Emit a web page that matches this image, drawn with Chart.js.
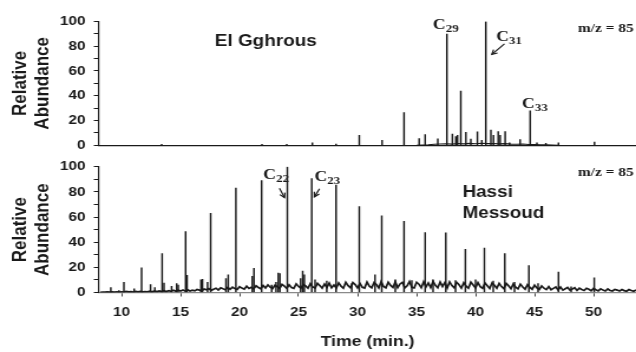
<!DOCTYPE html>
<html>
<head>
<meta charset="utf-8">
<script src="https://cdn.jsdelivr.net/npm/chart.js@4.4.1/dist/chart.umd.min.js"></script>
<style>
  html, body { margin: 0; padding: 0; background: #fff; overflow: hidden; }
  #wrap { position: relative; width: 636px; height: 352px; }
  /* the source figure is stretched sideways, so the canvases are too */
  canvas { position: absolute; left: 0; transform: scaleX(1.18); transform-origin: 0 0; }
  #top-chart { top: 0; }
  #bottom-chart { top: 152px; }
</style>
</head>
<body>
<div id="wrap">
  <canvas id="top-chart" width="539" height="160"></canvas>
  <canvas id="bottom-chart" width="539" height="200"></canvas>
</div>
<script>
// Time axis (min.)
const timeMin = 8.1;
const timeMax = 53.6;
const timeTicks = [10, 15, 20, 25, 30, 35, 40, 45, 50];
const abundanceTicks = [0, 10, 20, 30, 40, 50, 60, 70, 80, 90, 100];
const abundanceLabels = [0, 20, 40, 60, 80, 100];

// El Gghrous, m/z 85 peaks
const ggPeakTimes = [13.4, 21.9, 24.0, 26.17, 28.18, 30.15, 32.08, 33.94, 35.22, 35.73, 36.8, 37.57,
  38.04, 38.33, 38.47, 38.75, 39.18, 39.6, 40.16, 40.53, 40.87, 41.3, 41.52, 41.92, 42.09, 42.51,
  42.88, 43.78, 44.63, 45.2, 45.96, 47.03, 50.08];
const ggPeakHeights = [0.8, 0.8, 0.8, 2, 1, 8, 4, 26.4, 5.4, 8.5, 5.1, 89.8,
  9, 7, 8, 43.8, 10.5, 5, 10.8, 4, 100, 12.3, 8, 11, 8, 11,
  2, 4.5, 27.7, 2, 1.5, 2, 2.5];
// El Gghrous baseline, sampled every 0.5 min from 35 min
const ggBaseStart = 35;
const ggBaseStep = 0.5;
const ggBaseline = [0, 0.2, 0.4, 0.8, 1.0, 1.2, 0.9, 1.4, 1.1, 1.5, 1.2, 1.6, 1.3, 1.4, 1.1, 1.3,
  0.9, 0.8, 1.0, 0.6, 0.5, 0.4, 0.3, 0.2, 0];

// Hassi Messoud n-alkanes (m/z 85)
const hmPeakTimes = [9.09, 10.2, 11.7, 13.44, 15.43, 17.55, 19.69, 21.87, 24.05, 26.12, 28.18,
  30.15, 32.05, 33.94, 35.73, 37.48, 39.14, 40.75, 42.48, 44.52, 47.03, 50.06];
const hmPeakHeights = [4, 8, 19.6, 31, 48.4, 62.9, 83, 89, 100, 90.7, 85.5,
  68.3, 61, 56.7, 47.7, 47.5, 34.3, 35.3, 31, 21.4, 16.2, 11.6];
// smaller peaks between the n-alkanes
const hmMinorTimes = [9.78, 11.07, 12.46, 12.82, 13.6, 14.24, 14.67, 14.8, 15.55, 16.73, 16.86, 17.29,
  18.85, 19.04, 21.08, 21.22, 22.72, 23.09, 23.28, 23.42, 25.18, 25.35, 25.49, 26.4, 27.39, 29.51,
  31.48, 33.2, 34.6, 36.4, 38.3, 40.0, 41.5, 43.3, 45.3, 48.1];
const hmMinorHeights = [1.5, 3, 6.4, 4, 7.5, 5, 7, 6, 13.6, 10, 10.5, 8,
  11, 14, 12.8, 19.3, 6, 8, 15.5, 15, 11, 17, 14, 10, 9, 7,
  14, 10, 9.5, 10, 9.5, 10, 9, 8, 7, 4.5];
// Hassi Messoud noisy baseline, sampled every 0.2 min from 8.2 min
const hmBaseStart = 8.2;
const hmBaseStep = 0.2;
const hmBaseline = [
  0.2, 0.4, 0.3, 0.5, 0.3,  0.5, 0.3, 0.6, 0.4, 0.6,  0.4, 0.8, 0.5, 0.7, 0.4,
  0.8, 0.5, 0.9, 0.5, 0.8,  0.6, 1.1, 0.6, 1.2, 0.7,  1.3, 0.7, 1.5, 0.8, 1.4,
  0.9, 1.8, 1.0, 1.9, 1.1,  2.0, 1.1, 2.2, 1.2, 1.9,  1.3, 2.4, 1.9, 1.2, 2.8,
  2.1, 3.1, 1.7, 2.6, 3.4,  2.0, 3.7, 2.9, 2.2, 4.0,  2.6, 4.2, 3.1, 2.4, 4.6,
  3.5, 2.6, 5.0, 3.2, 4.1,  2.9, 5.3, 4.0, 3.0, 5.6,  3.6, 6.1, 4.2, 3.1, 5.8,
  4.6, 3.2, 6.5, 5.1, 3.4,  6.2, 4.0, 3.3, 6.9, 4.8,  3.5, 6.4, 5.2, 3.4, 7.0,
  4.4, 3.6, 7.3, 5.5, 3.5,  6.8, 4.1, 7.5, 3.7, 5.9,  3.6, 7.7, 5.0, 3.4, 8.1,
  5.4, 3.8, 7.9, 6.3, 3.6,  7.2, 4.2, 3.5, 8.3, 5.1,  3.8, 8.0, 6.4, 3.6, 8.6,
  4.9, 3.7, 8.2, 5.6, 4.0,  8.5, 3.9, 6.8, 8.1, 3.7,  5.3, 8.7, 4.1, 3.6, 8.2,
  6.6, 3.8, 8.5, 4.4, 7.6,  3.9, 8.8, 5.7, 3.7, 8.3,  4.8, 7.9, 3.6, 8.4, 5.5,
  3.7, 8.1, 6.2, 3.5, 7.8,  5.0, 3.4, 8.2, 6.0, 3.6,  7.9, 4.6, 3.3, 7.6, 5.4,
  3.2, 7.7, 5.8, 3.4, 7.3,  4.7, 3.1, 7.2, 5.3, 3.0,  6.9, 4.2, 2.9, 6.6, 4.4,
  2.7, 6.3, 4.1, 2.6, 5.8,  3.6, 2.4, 5.2, 3.4, 2.3,  4.7, 2.2, 3.3, 4.4, 2.0,
  4.3, 1.9, 3.0, 4.0, 1.8,  2.7, 3.8, 1.6, 3.5, 2.4,  1.6, 3.4, 2.6, 1.4, 3.2,
  2.2, 1.3, 2.9, 1.9, 1.2,  2.8, 1.6, 1.2, 2.5, 1.9,  1.1, 2.4, 1.5, 1.0, 2.3,
  1.6, 1.0, 2.0
];

const ink = '#1a1a1a';
const sans = '"Liberation Sans", Arial, sans-serif';
const serif = '"Liberation Serif", "Times New Roman", serif';

// Draws the panel labels, carbon numbers and arrows in data units
const annotate = {
  id: 'annotate',
  afterDraw(chart, args, opts) {
    const { ctx, scales: { x, y } } = chart;
    ctx.save();
    ctx.fillStyle = ink;
    ctx.strokeStyle = ink;
    (opts.texts || []).forEach(a => {
      ctx.font = a.font;
      ctx.textAlign = a.align || 'left';
      ctx.textBaseline = a.baseline || 'alphabetic';
      ctx.fillText(a.text, x.getPixelForValue(a.t), y.getPixelForValue(a.v));
    });
    (opts.carbons || []).forEach(c => {
      const px = x.getPixelForValue(c.t);
      const py = y.getPixelForValue(c.v);
      ctx.textAlign = 'left';
      ctx.textBaseline = 'alphabetic';
      ctx.font = 'bold 15px ' + serif;
      ctx.fillText('C', px, py);
      const w = ctx.measureText('C').width;
      ctx.font = 'bold 11px ' + serif;
      ctx.fillText(c.n, px + w, py + 3);
    });
    (opts.arrows || []).forEach(a => {
      const x0 = x.getPixelForValue(a.t0), y0 = y.getPixelForValue(a.v0);
      const x1 = x.getPixelForValue(a.t1), y1 = y.getPixelForValue(a.v1);
      const ang = Math.atan2(y1 - y0, x1 - x0);
      ctx.lineWidth = 1.2;
      ctx.beginPath();
      ctx.moveTo(x0, y0);
      ctx.lineTo(x1, y1);
      ctx.stroke();
      ctx.beginPath();
      ctx.moveTo(x1 - 5 * Math.cos(ang - 0.5), y1 - 5 * Math.sin(ang - 0.5));
      ctx.lineTo(x1, y1);
      ctx.lineTo(x1 - 5 * Math.cos(ang + 0.5), y1 - 5 * Math.sin(ang + 0.5));
      ctx.stroke();
    });
    ctx.restore();
  }
};

function peaks(times, heights) {
  return times.map((t, i) => ({ x: t, y: heights[i] }));
}

function sampled(start, step, values) {
  return values.map((v, i) => ({ x: start + i * step, y: v }));
}

function makeChart(id, cfg) {
  const ctx = document.getElementById(id).getContext('2d');
  return new Chart(ctx, {
    type: 'bar',
    data: {
      datasets: [{
        type: 'bar',
        data: cfg.peaks,
        backgroundColor: ink,
        borderWidth: 0,
        barThickness: 0.8,
      }, {
        type: 'line',
        data: cfg.baseline,
        borderColor: ink,
        borderWidth: cfg.noiseWidth,
        pointRadius: 0,
        tension: 0,
      }],
    },
    options: {
      responsive: false,
      animation: false,
      devicePixelRatio: 1,
      layout: { padding: { top: cfg.padTop, left: 0, right: 0, bottom: 0 } },
      plugins: {
        legend: { display: false },
        tooltip: { enabled: false },
        annotate: cfg.notes,
      },
      scales: {
        x: {
          type: 'linear',
          min: timeMin,
          max: timeMax,
          offset: false,
          afterBuildTicks: s => { s.ticks = timeTicks.map(v => ({ value: v })); },
          afterFit: s => { s.height = cfg.xHeight; },
          ticks: {
            display: cfg.showTime,
            autoSkip: false,
            maxRotation: 0,
            padding: 8,
            color: ink,
            font: { family: sans, size: 13, weight: 'bold' },
          },
          grid: { offset: false, drawOnChartArea: false, drawTicks: cfg.showTime, tickLength: 4, color: '#444' },
          border: { display: true, color: cfg.showTime ? '#8a8a8a' : ink, width: 1.2 },
          title: {
            display: cfg.showTime,
            text: 'Time (min.)',
            color: ink,
            padding: { top: 0, bottom: 1 },
            font: { family: sans, size: 15, weight: 'bold' },
          },
        },
        y: {
          min: 0,
          max: 100,
          afterBuildTicks: s => { s.ticks = abundanceTicks.map(v => ({ value: v })); },
          afterFit: s => { s.width = 84; },
          ticks: {
            autoSkip: false,
            padding: 7,
            color: ink,
            font: { family: sans, size: 13, weight: 'bold' },
            callback: v => (abundanceLabels.includes(v) ? v : ''),
          },
          grid: { drawOnChartArea: false, drawTicks: true, tickLength: 4.5, color: ink },
          border: { display: true, color: ink, width: 1.2 },
          title: {
            display: true,
            text: ['Relative', 'Abundance'],
            color: ink,
            padding: { top: 8, bottom: 0 },
            font: { family: sans, size: 17, weight: 'bold', lineHeight: 1.12 },
          },
        },
      },
    },
    plugins: [annotate],
  });
}

window.onload = function () {
  makeChart('top-chart', {
    peaks: peaks(ggPeakTimes, ggPeakHeights),
    baseline: sampled(ggBaseStart, ggBaseStep, ggBaseline),
    noiseWidth: 1.1,
    padTop: 21.5,
    xHeight: 9,
    showTime: false,
    notes: {
      texts: [
        { text: 'El Gghrous', t: 17.91, v: 83.6, baseline: 'middle', font: 'bold 16px ' + sans },
        { text: 'm/z = 85', t: 53.39, v: 94.2, align: 'right', baseline: 'middle', font: 'bold 13px ' + serif },
      ],
      carbons: [
        { n: '29', t: 36.38, v: 94.0 },
        { n: '31', t: 41.75, v: 84.4 },
        { n: '33', t: 43.93, v: 30.3 },
      ],
      arrows: [{ t0: 42.45, v0: 81.9, t1: 41.38, v1: 73.4 }],
    },
  });

  makeChart('bottom-chart', {
    peaks: peaks(hmPeakTimes, hmPeakHeights).concat(peaks(hmMinorTimes, hmMinorHeights)),
    baseline: sampled(hmBaseStart, hmBaseStep, hmBaseline),
    noiseWidth: 1.7,
    padTop: 12,
    xHeight: 59.5,
    showTime: true,
    notes: {
      texts: [
        { text: 'Hassi', t: 38.89, v: 75.9, font: 'bold 16px ' + sans },
        { text: 'Messoud', t: 38.89, v: 59.0, font: 'bold 16px ' + sans },
        { text: 'm/z = 85', t: 53.39, v: 95.3, align: 'right', baseline: 'middle', font: 'bold 13px ' + serif },
      ],
      carbons: [
        { n: '22', t: 22.01, v: 90.4 },
        { n: '23', t: 26.34, v: 89.1 },
      ],
      arrows: [
        { t0: 23.38, v0: 82.9, t1: 23.81, v1: 75.5 },
        { t0: 26.78, v0: 82.6, t1: 26.34, v1: 76.1 },
      ],
    },
  });
};
</script>
</body>
</html>
